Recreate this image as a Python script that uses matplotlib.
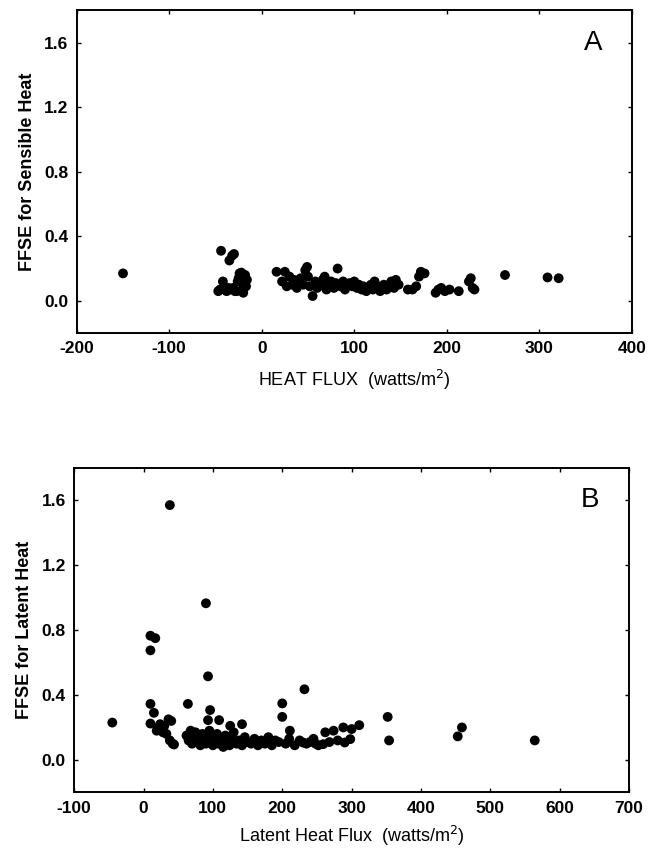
import matplotlib
matplotlib.use("Agg")
import matplotlib.pyplot as plt

plt.rcParams['font.family'] = ['Liberation Sans', 'DejaVu Sans']
plt.rcParams['axes.unicode_minus'] = False

# panel A - sensible heat
sens_flux = [-150,
             -44, -35, -32, -30,
             -47, -45, -42, -40, -38, -36, -34, -31, -29, -27, -26, -24, -22,
             -20, -19, -18, -17, -16, -25, -21,
             16, 25, 22, 27, 30, 33, 35, 38, 40, 42, 45, 47, 49, 50, 52, 55,
             58, 60, 63, 66, 68, 70, 72, 75, 78, 80, 82, 85, 88, 90, 93, 95,
             98, 100, 103, 105, 108, 110, 113, 115, 118, 120, 122, 125, 128,
             130, 132, 135, 138, 140, 143, 145, 148,
             158, 163, 167, 170, 172, 176, 188, 191, 194, 198, 203, 213, 224,
             226, 228, 230, 263, 309, 321]
sens_ffse = [0.17,
             0.31, 0.25, 0.28, 0.29,
             0.06, 0.07, 0.12, 0.07, 0.06, 0.08, 0.07, 0.08, 0.06, 0.06, 0.12,
             0.17, 0.175, 0.05, 0.10, 0.16, 0.09, 0.13, 0.14, 0.07,
             0.18, 0.18, 0.12, 0.09, 0.15, 0.10, 0.13, 0.08, 0.11, 0.14, 0.10,
             0.19, 0.21, 0.15, 0.09, 0.03, 0.12, 0.08, 0.10, 0.13, 0.15, 0.07,
             0.10, 0.12, 0.08, 0.11, 0.20, 0.09, 0.12, 0.07, 0.10, 0.11, 0.09,
             0.12, 0.08, 0.10, 0.07, 0.09, 0.06, 0.08, 0.10, 0.07, 0.12, 0.09,
             0.06, 0.08, 0.10, 0.07, 0.09, 0.12, 0.08, 0.13, 0.10,
             0.07, 0.07, 0.09, 0.15, 0.18, 0.17, 0.05, 0.07, 0.08, 0.06, 0.07,
             0.06, 0.12, 0.14, 0.08, 0.07, 0.16, 0.145, 0.14]

# panel B - latent heat
lat_flux = [-45, 38, 90, 10, 17, 10, 93, 232, 10, 64, 200, 200, 96, 93, 15,
            10, 36, 40, 24, 19, 33, 38, 44, 109, 125, 142, 211, 352, 354, 459,
            453, 564, 262, 274, 288, 300, 311, 259, 290, 298, 230, 240, 248,
            62, 65, 68, 70, 72, 75, 78, 80, 82, 85, 88, 90, 92, 95, 98, 100,
            103, 106, 108, 112, 115, 118, 120, 124, 128, 130, 134, 138, 142,
            146, 150, 155, 160, 165, 170, 175, 180, 185, 190, 195, 205, 210,
            218, 225, 235, 245, 252, 268, 280, 22, 28, 30, 42]
lat_ffse = [0.23, 1.57, 0.965, 0.765, 0.75, 0.675, 0.515, 0.435, 0.345, 0.345,
            0.348, 0.265, 0.307, 0.245, 0.29, 0.224, 0.25, 0.24, 0.22, 0.18,
            0.16, 0.12, 0.095, 0.245, 0.21, 0.22, 0.18, 0.265, 0.12, 0.2, 0.145,
            0.12, 0.17, 0.18, 0.2, 0.19, 0.214, 0.097, 0.107, 0.128, 0.107,
            0.11, 0.10,
            0.15, 0.12, 0.18, 0.10, 0.14, 0.17, 0.11, 0.13, 0.09, 0.16, 0.12,
            0.10, 0.14, 0.18, 0.11, 0.09, 0.13, 0.16, 0.10, 0.12, 0.08, 0.15,
            0.11, 0.09, 0.13, 0.17, 0.10, 0.12, 0.09, 0.14, 0.11, 0.10, 0.13,
            0.09, 0.12, 0.10, 0.14, 0.09, 0.12, 0.11, 0.10, 0.13, 0.09, 0.12,
            0.10, 0.13, 0.09, 0.11, 0.12, 0.20, 0.17, 0.21, 0.10]

y_ticks = [0.0, 0.4, 0.8, 1.2, 1.6]

fig = plt.figure(figsize=(6.56, 8.52), dpi=100)
axA = fig.add_axes([0.117, 0.609, 0.846, 0.379])
axB = fig.add_axes([0.113, 0.070, 0.846, 0.381])


def style(ax, xticks, letter):
    ax.set_ylim(-0.2, 1.8)
    ax.set_yticks(y_ticks)
    ax.set_yticklabels(['%.1f' % v for v in y_ticks])
    ax.set_xticks(xticks)
    ax.set_xlim(xticks[0], xticks[-1])
    ax.tick_params(direction='in', length=3, width=1, top=True, right=True,
                   labelsize=12.5, pad=6)
    for lab in ax.get_xticklabels() + ax.get_yticklabels():
        lab.set_fontweight('bold')
    for sp in ax.spines.values():
        sp.set_linewidth(1.4)
    ax.text(0.93, 0.9, letter, transform=ax.transAxes, fontsize=20,
            ha='center', va='center')


axA.scatter(sens_flux, sens_ffse, s=50, color='black', edgecolors='none')
style(axA, [-200, -100, 0, 100, 200, 300, 400], 'A')
axA.set_ylabel('FFSE for Sensible Heat', fontsize=13, fontweight='bold',
               labelpad=6)
axA.set_xlabel('HEAT FLUX  (watts/m$^2$)', fontsize=13, labelpad=8)

axB.scatter(lat_flux, lat_ffse, s=50, color='black', edgecolors='none')
style(axB, [-100, 0, 100, 200, 300, 400, 500, 600, 700], 'B')
axB.set_ylabel('FFSE for Latent Heat', fontsize=13, fontweight='bold',
               labelpad=6)
axB.set_xlabel('Latent Heat Flux  (watts/m$^2$)', fontsize=13, labelpad=6)

fig.savefig('out.png', dpi=100)
